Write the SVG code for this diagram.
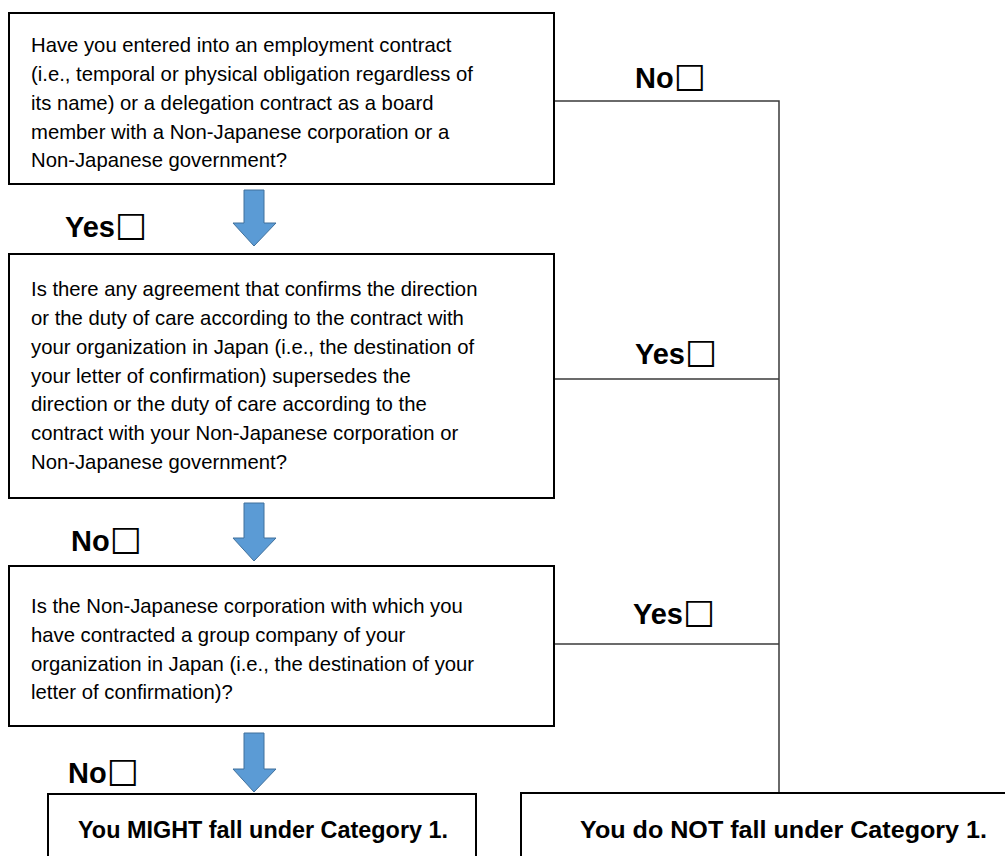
<svg xmlns="http://www.w3.org/2000/svg" width="1005" height="856" viewBox="0 0 1005 856">
<style>
.box{fill:#fff;stroke:#000;stroke-width:2}
.q{font-family:"Liberation Sans",Arial,sans-serif;font-size:20.3px;fill:#000}
.lbl{font-family:"Liberation Sans",Arial,sans-serif;font-size:29px;font-weight:bold;fill:#000}
.cb{font-family:"DejaVu Sans",sans-serif;font-size:36px;font-weight:bold}
.res{font-family:"Liberation Sans",Arial,sans-serif;font-size:24px;font-weight:bold;fill:#000}
.ln{fill:none;stroke:#3a3a3a;stroke-width:1.5}
.arr{fill:#5B9BD5;stroke:#41719C;stroke-width:1}
</style>
<rect width="1005" height="856" fill="#fff"/>
<g id="connectors">
<polyline class="ln" points="554,101 779,101 779,793"/>
<line class="ln" x1="554" y1="379" x2="779" y2="379"/>
<line class="ln" x1="554" y1="644" x2="779" y2="644"/>
<polygon class="arr" points="244,190 264,190 264,223 276,223 254,246 233,223 244,223"/>
<polygon class="arr" points="244,503 264,503 264,538 276,538 254,561 233,538 244,538"/>
<polygon class="arr" points="244,733 264,733 264,769 276,769 254,792 233,769 244,769"/>
</g>
<g id="labels">
<text class="lbl" x="635" y="88">No<tspan class="cb" dy="3">☐</tspan></text>
<text class="lbl" x="635" y="364">Yes<tspan class="cb" dy="3">☐</tspan></text>
<text class="lbl" x="633" y="624">Yes<tspan class="cb" dy="3">☐</tspan></text>
<text class="lbl" x="65" y="237">Yes<tspan class="cb" dy="3">☐</tspan></text>
<text class="lbl" x="71" y="551">No<tspan class="cb" dy="3">☐</tspan></text>
<text class="lbl" x="68" y="783">No<tspan class="cb" dy="3">☐</tspan></text>
</g>
<g id="q1">
<rect class="box" x="9" y="13" width="545" height="171"/>
<text class="q" x="31" y="52">Have you entered into an employment contract</text>
<text class="q" x="31" y="81">(i.e., temporal or physical obligation regardless of</text>
<text class="q" x="31" y="110">its name) or a delegation contract as a board</text>
<text class="q" x="31" y="139">member with a Non-Japanese corporation or a</text>
<text class="q" x="31" y="167">Non-Japanese government?</text>
</g>
<g id="q2">
<rect class="box" x="9" y="254" width="545" height="244"/>
<text class="q" x="31" y="296">Is there any agreement that confirms the direction</text>
<text class="q" x="31" y="325">or the duty of care according to the contract with</text>
<text class="q" x="31" y="354">your organization in Japan (i.e., the destination of</text>
<text class="q" x="31" y="383">your letter of confirmation) supersedes the</text>
<text class="q" x="31" y="411">direction or the duty of care according to the</text>
<text class="q" x="31" y="440">contract with your Non-Japanese corporation or</text>
<text class="q" x="31" y="469">Non-Japanese government?</text>
</g>
<g id="q3">
<rect class="box" x="9" y="566" width="545" height="160"/>
<text class="q" x="31" y="613">Is the Non-Japanese corporation with which you</text>
<text class="q" x="31" y="642">have contracted a group company of your</text>
<text class="q" x="31" y="671">organization in Japan (i.e., the destination of your</text>
<text class="q" x="31" y="699">letter of confirmation)?</text>
</g>
<g id="r1">
<rect class="box" x="48" y="794" width="428" height="100"/>
<text class="res" x="78" y="838" textLength="370" lengthAdjust="spacingAndGlyphs">You MIGHT fall under Category 1.</text>
</g>
<g id="r2">
<rect class="box" x="521" y="793" width="500" height="100"/>
<text class="res" x="580" y="838" textLength="407" lengthAdjust="spacingAndGlyphs">You do NOT fall under Category 1.</text>
</g>
</svg>
